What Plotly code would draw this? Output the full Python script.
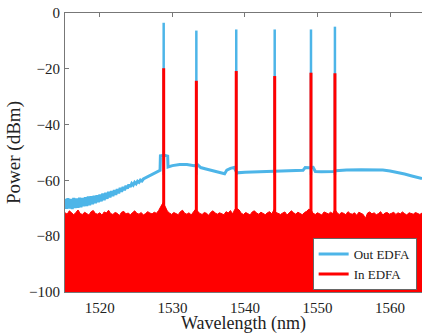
import plotly.graph_objects as go

# ---------------- data ----------------
# Out EDFA: ASE spectrum (noisy at short wavelengths)
out_wl = [
    1515.2, 1515.4, 1515.6, 1515.8, 1516.0, 1516.2, 1516.4, 1516.6, 1516.8, 1517.0,
    1517.2, 1517.4, 1517.6, 1517.8, 1518.0, 1518.2, 1518.4, 1518.6, 1518.8, 1519.0,
    1519.2, 1519.4, 1519.6, 1519.8, 1520.0, 1520.2, 1520.4, 1520.6, 1520.8, 1521.0,
    1521.2, 1521.4, 1521.6, 1521.8, 1522.0, 1522.2, 1522.4, 1522.6, 1522.8, 1523.0,
    1523.2, 1523.4, 1523.6, 1523.8, 1524.0, 1524.2, 1524.4, 1524.6, 1524.8, 1525.0,
    1525.2, 1525.4, 1525.6, 1525.8, 1526.0,
    1526.5, 1527.0, 1527.5, 1528.0, 1528.3, 1528.35, 1528.7, 1528.9, 1529.35, 1529.4,
    1530.0, 1531.0, 1532.0, 1533.0, 1533.5, 1533.9, 1534.5, 1535.5, 1536.5, 1537.2,
    1537.5, 1538.0, 1538.5, 1538.9, 1540.0, 1541.0, 1542.0, 1543.0, 1544.0, 1545.0,
    1546.0, 1547.0, 1548.0, 1548.3, 1548.9, 1549.4, 1549.7, 1550.5, 1551.5, 1552.2,
    1552.5, 1553.0, 1554.0, 1556.0, 1558.0, 1559.0, 1560.0, 1561.0, 1562.0, 1563.0,
    1564.4,
]
out_power = [
    -66.6, -70.2, -66.4, -70.1, -66.7, -70.3, -66.3, -69.9, -66.5, -69.8,
    -66.2, -69.6, -66.3, -69.3, -66.0, -69.2, -65.8, -68.9, -65.7, -68.5,
    -65.5, -68.2, -65.3, -67.8, -65.1, -67.5, -64.7, -67.1, -64.4, -66.6,
    -64.1, -66.1, -63.8, -65.6, -63.5, -65.2, -63.1, -64.6, -62.7, -64.1,
    -62.3, -63.5, -61.9, -62.9, -61.5, -62.3, -61.1, -61.7, -60.7, -61.2,
    -60.3, -60.7, -59.9, -60.2, -59.5,
    -58.8, -58.1, -57.4, -56.8, -56.4, -51.2, -51.0, -51.0, -51.3, -55.2,
    -54.7, -54.3, -54.3, -54.7, -54.4, -55.4, -55.8, -56.4, -57.0, -57.6,
    -56.3, -55.7, -55.4, -57.3, -57.1, -57.0, -56.9, -56.8, -56.7, -56.6,
    -56.6, -56.5, -56.4, -55.4, -55.5, -55.3, -56.8, -56.9, -56.9, -56.8,
    -56.5, -56.4, -56.3, -56.2, -56.2, -56.3, -56.6, -57.1, -57.7, -58.4,
    -59.3,
]

# In EDFA: noise floor top edge, sampled every 0.3 nm from 1515.2 nm
in_start, in_step = 1515.2, 0.3
in_floor = [
    -71.6, -72.1, -70.9, -71.8, -72.3, -71.5, -70.6, -71.9, -72.2, -71.4,
    -71.8, -72.4, -71.2, -70.8, -71.9, -72.1, -71.6, -72.5, -71.3, -71.7,
    -70.7, -71.9, -72.2, -71.5, -71.8, -72.6, -71.4, -71.1, -72.0, -71.7,
    -72.3, -71.6, -70.9, -71.8, -72.1, -71.5, -72.4, -71.9, -71.2, -71.7,
    -72.0, -71.4, -71.8, -70.8, -69.6, -68.0, -69.3, -71.0, -71.7, -72.2,
    -71.5, -71.9, -72.3, -71.2, -70.7, -71.8, -72.1, -71.6, -72.4, -71.3,
    -70.3, -71.1, -71.9, -72.2, -71.5, -71.8, -72.5, -71.4, -70.9, -71.7,
    -72.1, -71.6, -71.9, -72.3, -71.2, -71.7, -70.8, -72.0, -70.4, -70.1,
    -70.6, -71.8, -72.2, -71.5, -71.9, -72.4, -71.3, -70.9, -71.7, -72.1,
    -71.4, -71.8, -72.3, -71.6, -71.2, -72.0, -70.5, -71.5, -71.9, -72.2,
    -71.7, -71.3, -72.4, -71.8, -70.9, -71.6, -72.1, -71.4, -71.9, -72.3,
    -71.5, -71.1, -70.3, -70.6, -71.8, -72.2, -71.6, -71.9, -72.4, -71.3,
    -71.7, -72.0, -71.4, -71.9, -70.4, -71.6, -72.2, -71.5, -71.8, -72.3,
    -71.2, -71.9, -72.1, -71.6, -72.5, -71.4, -71.8, -72.2, -73.6, -71.7,
    -71.3, -72.0, -71.6, -72.3, -71.9, -71.2, -72.4, -71.7, -71.5, -72.1,
    -71.8, -71.4, -72.2, -71.6, -72.0, -71.3, -71.9, -72.4, -71.6, -71.8,
    -72.1, -71.5, -71.9, -72.2, -71.7,
]

# laser lines
peak_wl = [1528.8, 1533.3, 1538.8, 1544.1, 1549.1, 1552.4]
out_peak = [-3.5, -6.3, -5.9, -5.9, -5.9, -4.9]
in_peak = [-19.8, -24.3, -20.8, -22.6, -21.4, -21.6]

x_ticks = [1520, 1530, 1540, 1550, 1560]
y_ticks = [0, -20, -40, -60, -80, -100]
y_tick_text = ["0", "\u221220", "\u221240", "\u221260", "\u221280", "\u2212100"]

# ---------------- figure ----------------
BLUE = "#4DB5E8"
RED = "#FF0000"
FONT = "Liberation Serif, Times New Roman, serif"
TXT = "#222"
Y_BOTTOM = -100

in_wl = [round(in_start + in_step * i, 2) for i in range(len(in_floor))]


def spikes(xs, top, bottom):
    sx, sy = [], []
    for x, t in zip(xs, top):
        sx += [x, x, None]
        sy += [bottom, t, None]
    return sx, sy


fig = go.Figure()

# Out EDFA (blue)
fig.add_trace(go.Scatter(x=out_wl, y=out_power, mode="lines", name="Out EDFA",
                         line=dict(color=BLUE, width=3), showlegend=True))
bx, by = spikes(peak_wl, out_peak, -58)
fig.add_trace(go.Scatter(x=bx, y=by, mode="lines", line=dict(color=BLUE, width=2.5),
                         showlegend=False, hoverinfo="skip"))

# In EDFA (red filled noise floor)
fig.add_trace(go.Scatter(x=[in_wl[0], in_wl[-1]], y=[Y_BOTTOM, Y_BOTTOM], mode="lines",
                         line=dict(color=RED, width=0), showlegend=False, hoverinfo="skip"))
fig.add_trace(go.Scatter(x=in_wl, y=in_floor, mode="lines", fill="tonexty",
                         fillcolor=RED, line=dict(color=RED, width=1),
                         showlegend=False))
rx, ry = spikes(peak_wl, in_peak, Y_BOTTOM)
fig.add_trace(go.Scatter(x=rx, y=ry, mode="lines", name="In EDFA",
                         line=dict(color=RED, width=3), showlegend=True))

axis_common = dict(showgrid=False, zeroline=False, showline=True, linecolor="#777",
                   linewidth=1, ticks="inside", ticklen=4, tickcolor="#777",
                   tickfont=dict(family=FONT, size=15, color=TXT),
                   layer="below traces")

fig.update_xaxes(range=[1515.2, 1564.4], tickvals=x_ticks, mirror="ticks",
                 ticklabelstandoff=2,
                 title=dict(text="Wavelength (nm)", font=dict(family=FONT, size=18, color=TXT),
                            standoff=5),
                 **axis_common)
fig.update_yaxes(range=[-100, 0], tickvals=y_ticks, ticktext=y_tick_text, mirror=False,
                 ticklabelstandoff=1,
                 title=dict(text="Power (dBm)", font=dict(family=FONT, size=19, color=TXT),
                            standoff=3),
                 **axis_common)

fig.update_layout(
    width=422, height=334,
    margin=dict(l=65, r=0, t=13, b=42, autoexpand=False),
    paper_bgcolor="white", plot_bgcolor="white",
    legend=dict(x=0.985, y=0.1, xanchor="right", yanchor="middle",
                bgcolor="white", bordercolor="#666", borderwidth=1,
                font=dict(family=FONT, size=13, color=TXT),
                tracegroupgap=0, traceorder="normal"),
    showlegend=True,
)

# remove the default page margin so the figure fills the window exactly
fig.write_html("out.html", config={"displayModeBar": False},
               post_script="document.body.style.margin='0';")
